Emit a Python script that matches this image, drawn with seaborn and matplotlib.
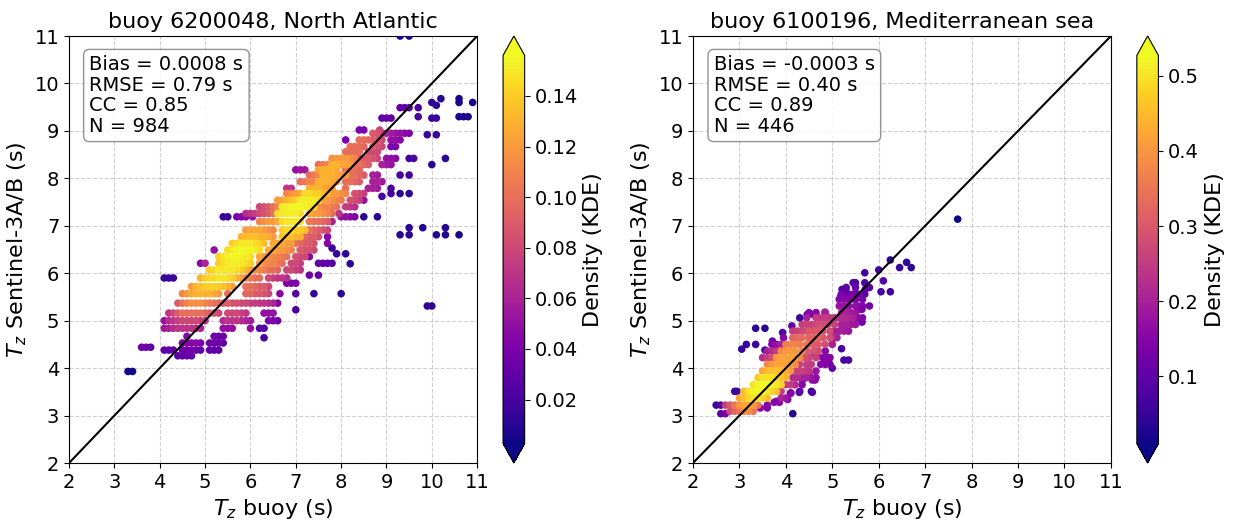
import numpy as np
import pandas as pd
import matplotlib
matplotlib.use('Agg')
import matplotlib.pyplot as plt
from matplotlib.colors import Normalize
from matplotlib.cm import ScalarMappable
import seaborn as sns

# =====================================================
# Data: one row per Sentinel-3 Tz level,
# with the buoy Tz values found on that row and their KDE density
# =====================================================

# --- buoy 6200048, North Atlantic ---
na_row_sat = [3.93, 4.44, 4.26, 4.38, 4.53, 4.67, 4.64, 4.84, 5.0, 5.16,
              5.23, 5.37, 5.57, 5.72, 5.79, 5.9, 5.96, 6.07, 6.21, 6.35,
              6.41, 6.49, 6.53, 6.2, 6.63, 6.77, 6.91, 7.09, 7.19, 7.26,
              7.4, 7.54, 7.62, 7.68, 7.79, 7.93, 8.07, 8.18, 8.29, 8.42,
              8.56, 8.67, 8.81, 8.92, 8.95, 9.02, 9.27, 9.3, 9.49, 9.54,
              9.6, 9.68, 11.0, 5.31, 6.81, 6.96, 5.9]
na_row_buoy = [
    [3.3, 3.4],
    [3.6, 3.7, 3.8],
    [4.4, 4.5, 4.6, 4.7],
    [4.1, 4.2, 4.3, 4.5, 4.6, 4.7, 4.8, 4.9, 5.1, 5.2, 5.3],
    [4.5, 4.6, 4.7, 4.8, 4.9, 5.1, 5.2, 5.3, 5.4],
    [4.6, 5.2, 5.3, 5.4],
    [6.3],
    [4.1, 4.2, 4.3, 4.4, 4.5, 4.6, 4.7, 4.8, 4.9, 5.4, 5.5, 5.6, 6.0, 6.2, 6.3],
    [4.1, 4.2, 4.3, 4.4, 4.5, 4.6, 4.7, 4.8, 4.9, 5.0, 5.4, 5.5, 5.6, 5.7, 5.8, 5.9, 6.0, 6.4, 6.5, 6.6],
    [4.2, 4.3, 4.4, 4.5, 4.6, 4.7, 4.8, 4.9, 5.0, 5.1, 5.2, 5.3, 5.5, 5.6, 5.7, 5.8, 5.9, 6.3, 6.4, 6.5],
    [7.0],
    [4.4, 4.5, 4.6, 4.7, 4.8, 4.9, 5.0, 5.1, 5.2, 5.3, 5.4, 5.5, 5.6, 5.7, 5.8, 5.9,
     6.0, 6.1, 6.2, 6.3, 6.4, 6.5, 6.6],
    [4.5, 4.6, 4.7, 4.8, 4.9, 5.0, 5.1, 5.2, 5.3, 5.5, 5.9, 6.0, 6.1, 6.2, 6.3, 6.4,
     6.65, 7.0, 7.4, 8.0],
    [4.7, 4.8, 4.9, 5.0, 5.1, 5.2, 5.3, 5.4, 5.5, 5.6, 5.9, 6.0, 6.1, 6.2, 6.3, 6.4],
    [6.8, 6.9, 7.0],
    [4.9, 5.0, 5.1, 5.2, 5.3, 5.4, 5.5, 5.6, 5.7, 5.8, 5.9, 6.0, 6.1, 6.2,
     6.4, 6.5, 6.6, 6.7, 6.8],
    [7.3, 7.5],
    [5.1, 5.2, 5.3, 5.4, 5.5, 5.6, 5.7, 5.8, 5.9, 6.0, 6.1, 6.2, 6.3, 6.4, 6.5, 6.6,
     6.8, 6.9, 7.0, 7.1],
    [4.9, 5.0, 5.3, 5.4, 5.5, 5.6, 5.7, 5.8, 5.9, 6.0, 6.2, 6.3, 6.4, 6.5, 6.6, 6.7,
     6.9, 7.0, 7.1, 7.5, 7.6, 7.7, 7.8],
    [5.3, 5.4, 5.5, 5.6, 5.7, 5.8, 5.9, 6.0, 6.2, 6.3, 6.4, 6.5, 6.6, 6.7, 6.8,
     7.0, 7.1, 7.2, 7.3],
    [7.9, 8.1],
    [5.2, 5.5, 5.6, 5.7, 5.8, 5.9, 6.0, 6.1, 6.2, 6.4, 6.5, 6.6, 6.7, 6.8, 6.9,
     7.1, 7.2, 7.3, 7.4],
    [7.8],
    [8.2],
    [5.6, 5.7, 5.8, 5.9, 6.0, 6.1, 6.2, 6.3, 6.5, 6.6, 6.7, 6.8, 6.9,
     7.0, 7.1, 7.2, 7.3, 7.4, 7.7],
    [5.8, 5.9, 6.0, 6.1, 6.2, 6.3, 6.4, 6.5, 6.7, 6.8, 6.9, 7.0, 7.1,
     7.2, 7.3, 7.4, 7.5, 7.7],
    [5.9, 6.0, 6.1, 6.2, 6.3, 6.4, 6.5, 6.7, 6.8, 6.9, 7.0, 7.1, 7.2,
     7.3, 7.4, 7.5, 7.6, 7.7],
    [6.2, 6.3, 6.4, 6.5, 6.6, 6.7, 6.8, 6.9, 7.0, 7.1, 7.3, 7.4, 7.5, 7.6, 7.7, 7.8],
    [5.4, 5.5, 5.7, 5.8, 5.9, 6.05, 8.0, 8.1, 8.2, 8.3, 8.5, 8.8],
    [5.9, 6.0, 6.1, 6.2, 6.3, 6.4, 6.5, 6.6, 6.7, 6.8, 6.9, 7.0, 7.1,
     7.3, 7.4, 7.5, 7.6, 7.7, 7.8, 7.95],
    [6.2, 6.3, 6.4, 6.5, 6.6, 6.7, 6.8, 6.9, 7.0, 7.1, 7.2, 7.3, 7.4,
     7.5, 7.6, 7.7, 7.8, 7.9, 8.1, 8.2, 8.3],
    [6.6, 6.7, 6.8, 6.9, 7.0, 7.1, 7.2, 7.3, 7.4, 7.5, 7.6, 7.7, 7.8, 7.9, 8.0,
     8.2, 8.3, 8.4, 8.5],
    [8.9],
    [6.8, 6.9, 7.0, 7.1, 7.2, 7.3, 7.4, 7.5, 7.6, 7.7, 7.8, 7.9, 8.0, 8.1,
     8.3, 8.4, 8.5, 9.1, 9.3, 9.5],
    [6.8, 6.9, 7.3, 7.4, 7.5, 7.6, 7.7, 7.8, 8.1, 8.6, 8.7, 8.8, 9.1],
    [7.1, 7.2, 7.3, 7.4, 7.5, 7.6, 7.7, 7.8, 7.9, 8.1, 8.2, 8.3, 8.4, 8.7, 8.8, 8.9],
    [7.3, 7.4, 7.5, 7.6, 7.7, 7.8, 7.9, 8.0, 8.1, 8.2, 8.3, 8.4, 8.5, 8.7, 8.8, 9.3, 9.5],
    [7.0, 7.1, 7.2, 7.5, 7.6, 7.7, 7.8, 7.9, 8.1, 8.2, 8.3, 8.4],
    [7.5, 7.6, 7.7, 7.8, 7.9, 8.0, 8.1, 8.2, 8.3, 8.4, 8.5, 8.6, 8.9, 9.0, 9.1, 10.0],
    [7.8, 7.9, 8.0, 8.1, 8.2, 8.3, 8.4, 8.5, 8.6, 8.7, 8.8, 9.0, 9.1, 9.2, 9.5, 9.6, 10.3],
    [8.1, 8.2, 8.3, 8.4, 8.6, 8.7, 8.8],
    [8.2, 8.3, 8.4, 8.5, 8.7, 8.8, 8.9, 9.1, 9.2],
    [8.1, 8.4, 8.5, 8.6, 8.7, 8.8, 8.9, 9.1, 9.2, 9.3],
    [9.9, 10.1],
    [8.7, 8.8, 8.9, 9.0, 9.1, 9.2, 9.3, 9.4, 9.5],
    [8.4, 8.5, 8.85],
    [8.9, 9.0, 9.1, 10.0, 10.1],
    [9.7, 10.6, 10.7, 10.8],
    [9.3, 9.4, 9.5, 9.7],
    [10.1],
    [10.0, 10.6, 10.9],
    [10.2, 10.6],
    [9.3, 9.5],
    [9.9, 10.0],
    [9.3, 9.5, 10.1, 10.3, 10.6],
    [9.5, 9.8, 10.3],
    [4.1, 4.2, 4.3],
]
na_row_kde = [
    [.004, .004],
    [.035, .035, .03],
    [.03, .03, .03, .03],
    [.03, .03, .03, .035, .035, .035, .035, .03, .03, .03, .03],
    [.04, .045, .045, .045, .04, .035, .035, .035, .03],
    [.045, .035, .035, .035],
    [.02],
    [.055, .06, .065, .07, .07, .07, .07, .065, .06, .05, .05, .05, .05, .025, .025],
    [.05, .065, .07, .075, .08, .08, .08, .08, .075, .07, .065, .07, .07, .07, .065, .06, .055, .04, .04, .035],
    [.07, .08, .09, .1, .1, .1, .1, .1, .095, .09, .085, .08, .08, .08, .08, .075, .07, .05, .05, .05],
    [.02],
    [.09, .1, .11, .115, .115, .115, .11, .105, .1, .095, .09, .09, .085, .085, .08, .08,
     .075, .075, .07, .07, .065, .06, .04],
    [.11, .12, .125, .13, .13, .13, .13, .125, .12, .1, .095, .095, .09, .09, .085, .08,
     .045, .025, .015, .012],
    [.12, .13, .135, .14, .14, .14, .14, .135, .13, .12, .1, .1, .095, .09, .09, .08],
    [.04, .04, .04],
    [.13, .14, .145, .145, .15, .15, .145, .14, .13, .12, .11, .105, .1, .1,
     .08, .075, .07, .07, .065],
    [.035, .03],
    [.14, .145, .15, .15, .15, .15, .145, .14, .13, .12, .115, .11, .105, .1, .1, .095,
     .08, .08, .075, .07],
    [.045, .06, .14, .145, .15, .152, .152, .15, .145, .14, .12, .115, .11, .11, .105, .1,
     .08, .08, .075, .03, .03, .03, .025],
    [.14, .148, .152, .155, .155, .152, .15, .145, .125, .12, .115, .11, .11, .105, .1,
     .085, .08, .08, .045],
    [.015, .012],
    [.05, .145, .15, .155, .155, .155, .155, .15, .145, .125, .125, .12, .12, .115, .11,
     .09, .085, .085, .08],
    [.015],
    [.01],
    [.14, .145, .15, .15, .15, .145, .14, .135, .125, .125, .125, .12, .12,
     .1, .095, .09, .09, .085, .045],
    [.13, .135, .135, .135, .13, .13, .125, .12, .135, .135, .135, .13, .13,
     .095, .09, .09, .085, .045],
    [.12, .125, .125, .125, .12, .115, .11, .14, .145, .145, .14, .14, .135,
     .1, .095, .09, .085, .08],
    [.11, .115, .12, .12, .125, .145, .15, .15, .15, .145, .105, .1, .1, .095, .09, .06],
    [.015, .015, .04, .045, .045, .05, .05, .05, .045, .04, .01, .01],
    [.065, .07, .075, .08, .085, .09, .1, .145, .15, .152, .152, .15, .145,
     .125, .12, .12, .115, .11, .1, .07],
    [.08, .085, .09, .1, .11, .15, .152, .155, .155, .155, .152, .15, .145,
     .115, .11, .11, .105, .1, .075, .07, .065],
    [.12, .125, .13, .135, .14, .15, .152, .152, .15, .145, .12, .12, .115, .11, .105,
     .085, .08, .075, .05],
    [.02],
    [.11, .115, .12, .125, .145, .145, .14, .14, .135, .13, .12, .12, .115, .11,
     .085, .08, .075, .02, .01, .01],
    [.07, .07, .13, .13, .13, .125, .12, .12, .1, .06, .06, .055, .02],
    [.1, .105, .11, .11, .13, .13, .13, .125, .12, .1, .1, .095, .09, .06, .06, .055],
    [.1, .105, .11, .13, .13, .13, .125, .12, .12, .1, .1, .095, .09, .06, .055, .02, .02],
    [.05, .055, .055, .125, .13, .13, .13, .125, .1, .1, .1, .095],
    [.1, .105, .11, .13, .13, .125, .125, .12, .1, .1, .095, .09, .06, .055, .05, .01],
    [.115, .12, .12, .12, .115, .11, .09, .09, .09, .085, .08, .05, .05, .045, .02, .02, .01],
    [.1, .1, .1, .1, .08, .08, .08],
    [.1, .1, .1, .095, .09, .085, .08, .04, .04],
    [.04, .1, .1, .095, .09, .085, .08, .05, .05, .045],
    [.015, .015],
    [.09, .085, .06, .06, .055, .05, .05, .045, .04],
    [.04, .04, .08],
    [.03, .03, .03, .015, .015],
    [.02, .005, .005, .005],
    [.03, .03, .03, .02],
    [.01],
    [.012, .006, .005],
    [.008, .005],
    [.006, .006],
    [.012, .012],
    [.01, .01, .008, .008, .006],
    [.01, .008, .008],
    [.015, .015, .015],
]
na_title = 'buoy 6200048, North Atlantic'
na_stats = ['Bias = 0.0008 s', 'RMSE = 0.79 s', 'CC = 0.85', 'N = 984']
na_kde_range = (0.0026, 0.156)

# --- buoy 6100196, Mediterranean sea ---
med_row_sat = [3.04, 3.09, 3.22, 3.04, 3.37, 3.47, 3.3, 3.16, 3.51, 3.65,
               3.8, 3.94, 4.0, 4.08, 4.17, 4.22, 4.36, 4.38, 4.4, 4.41,
               4.5, 4.64, 4.78, 4.84, 4.89, 4.92, 5.06, 5.17, 5.31, 5.45,
               5.56, 5.61, 5.7, 5.8, 5.84, 6.01, 6.07, 6.12, 6.23, 6.28, 7.14,
               5.13, 5.18, 4.75, 4.57, 4.46, 5.66, 5.52, 5.24, 4.97, 4.82,
               4.61, 4.22, 4.32, 4.25, 3.9, 3.75, 3.49, 3.48, 3.34, 3.28]
med_row_buoy = [
    [2.6, 2.7],
    [2.8, 2.9, 3.0, 3.1, 3.2, 3.3],
    [2.5, 2.6, 2.7, 2.8, 2.9, 3.0, 3.1, 3.2, 3.3, 3.4, 3.6],
    [4.15],
    [3.0, 3.1, 3.2, 3.3, 3.4, 3.5, 3.6, 3.9, 4.0],
    [4.1],
    [3.8],
    [3.45, 3.6],
    [2.9, 2.95, 3.1, 3.2, 3.3, 3.4, 3.5, 3.6, 3.7, 3.8, 3.9, 4.3, 4.55],
    [3.3, 3.4, 3.5, 3.6, 3.7, 3.8, 3.9, 4.0, 4.1, 4.2, 4.35],
    [3.4, 3.5, 3.6, 3.7, 3.8, 3.9, 4.0, 4.15, 4.25, 4.35, 4.45, 4.55, 4.65],
    [3.5, 3.6, 3.7, 3.8, 3.9, 4.0, 4.1, 4.2, 4.3, 4.4, 4.5, 4.65],
    [5.0],
    [3.6, 3.7, 3.8, 3.9, 4.0, 4.1, 4.2, 4.3, 4.45, 4.55, 4.75, 4.85, 4.95],
    [5.25, 5.35, 4.87],
    [3.5, 3.6, 3.7, 3.8, 3.9, 4.0, 4.1, 4.2, 4.3, 4.4, 4.5, 4.65, 4.8, 4.95],
    [3.6, 3.7, 3.8, 3.9, 4.0, 4.1, 4.2, 4.35, 4.45, 4.6, 4.7, 4.85],
    [3.55],
    [3.05],
    [5.2],
    [3.15, 3.35, 3.7, 3.8, 3.9, 4.0, 4.1, 4.2, 4.3, 4.45, 4.5, 4.6, 4.7, 4.85, 5.0],
    [3.95, 4.15, 4.25, 4.35, 4.5, 4.6, 4.7, 4.8, 4.95, 5.0, 5.1],
    [4.15, 4.25, 4.35, 4.45, 4.5, 4.6, 4.7, 4.8, 4.95, 5.05, 5.15, 5.25, 5.35],
    [3.35, 3.55],
    [4.13],
    [4.35, 4.45, 4.55, 4.65, 4.7, 4.8, 4.9, 5.05, 5.2, 5.3, 5.4, 5.5],
    [4.3, 4.45, 4.65, 4.75, 4.85, 4.95, 5.05, 5.15, 5.25, 5.35, 5.45, 5.55, 5.65],
    [4.5, 4.65, 4.85, 5.2, 5.3, 5.4, 5.5],
    [5.15, 5.25, 5.35, 5.5, 5.55, 5.65, 5.8],
    [5.15, 5.25, 5.35, 5.4, 5.5, 5.65],
    [5.2, 5.35, 5.45, 5.55, 5.7],
    [6.05, 6.25],
    [5.3, 5.5, 5.8],
    [5.45, 5.5, 5.7],
    [6.1],
    [5.7],
    [6.0],
    [6.45, 6.7],
    [6.6],
    [6.25],
    [7.7],
    [4.46, 4.59, 5.5],
    [4.84],
    [3.93],
    [3.71],
    [3.77],
    [5.21, 5.29, 5.71],
    [5.18, 5.43],
    [5.57, 5.64],
    [5.64],
    [5.21],
    [5.0],
    [4.86, 4.93],
    [4.61],
    [4.68],
    [4.5],
    [4.36, 4.57, 4.63],
    [4.29, 4.57],
    [4.11],
    [4.04],
    [3.86, 3.75],
]
med_row_kde = [
    [.1, .13],
    [.28, .32, .35, .38, .38, .35],
    [.06, .08, .25, .3, .35, .4, .42, .42, .4, .35, .15],
    [.03],
    [.42, .46, .48, .5, .5, .48, .45, .2, .18],
    [.15],
    [.15],
    [.15, .15],
    [.06, .06, .45, .5, .52, .52, .52, .5, .48, .45, .25, .1, .06],
    [.5, .52, .53, .53, .52, .5, .48, .25, .25, .22, .15],
    [.47, .5, .5, .5, .48, .46, .44, .22, .22, .2, .2, .18, .16],
    [.42, .45, .46, .46, .45, .43, .4, .26, .26, .25, .24, .18],
    [.1],
    [.38, .4, .42, .42, .42, .4, .38, .26, .25, .25, .15, .14, .13],
    [.07, .07, .15],
    [.22, .25, .28, .4, .42, .42, .42, .4, .38, .28, .27, .26, .15, .14],
    [.2, .22, .25, .38, .4, .4, .4, .38, .3, .29, .28, .15],
    [.06],
    [.05],
    [.07],
    [.05, .05, .15, .17, .2, .36, .37, .37, .36, .35, .31, .3, .3, .28, .2],
    [.15, .32, .33, .33, .32, .32, .32, .3, .28, .22, .2],
    [.25, .26, .27, .27, .3, .3, .3, .29, .28, .2, .2, .19, .18],
    [.04, .04],
    [.1],
    [.25, .26, .26, .26, .28, .28, .27, .26, .2, .2, .19, .18],
    [.06, .2, .25, .25, .25, .24, .23, .22, .22, .21, .2, .15, .14],
    [.15, .15, .2, .2, .2, .19, .18],
    [.18, .18, .17, .17, .15, .14, .13],
    [.15, .15, .15, .15, .14, .13],
    [.12, .12, .12, .11, .1],
    [.07, .06],
    [.1, .1, .09],
    [.08, .08, .08],
    [.08],
    [.07],
    [.07],
    [.05, .04],
    [.04],
    [.04],
    [.011],
    [.1, .1, .12],
    [.2],
    [.08],
    [.12],
    [.12],
    [.09, .09, .09],
    [.14, .14],
    [.14, .14],
    [.12],
    [.1],
    [.1],
    [.12, .12],
    [.15],
    [.15],
    [.15],
    [.15, .15, .15],
    [.08, .08],
    [.15],
    [.15],
    [.15, .15],
]
med_title = 'buoy 6100196, Mediterranean sea'
med_stats = ['Bias = -0.0003 s', 'RMSE = 0.40 s', 'CC = 0.89', 'N = 446']
med_kde_range = (0.0107, 0.527)


def to_frame(row_sat, row_buoy, row_kde):
    recs = []
    for s, xs, ds in zip(row_sat, row_buoy, row_kde):
        for x, d in zip(xs, ds):
            recs.append((x, s, d))
    df = pd.DataFrame(recs, columns=['buoy', 'sat', 'kde'])
    # densest points on top
    return df.sort_values('kde').reset_index(drop=True)


def draw_panel(ax, cax, df, title, stats, kde_range):
    norm = Normalize(*kde_range)
    sns.scatterplot(data=df, x='buoy', y='sat', hue='kde', palette='plasma',
                    hue_norm=norm, s=30, linewidth=0, legend=False, ax=ax, zorder=3)
    ax.plot([2, 11], [2, 11], color='black', lw=1.5, zorder=4)
    ax.set_xlim(2, 11)
    ax.set_ylim(2, 11)
    ax.set_xticks(range(2, 12))
    ax.set_yticks(range(2, 12))
    ax.grid(True, linestyle='--', color='#b0b0b0', alpha=0.6, lw=0.8)
    ax.tick_params(labelsize=14)
    ax.set_title(title, fontsize=16)
    ax.set_xlabel('$T_z$ buoy (s)', fontsize=16)
    ax.set_ylabel('$T_z$ Sentinel-3A/B (s)', fontsize=16)
    ax.text(0.05, 0.955, '\n'.join(stats), transform=ax.transAxes, fontsize=14,
            va='top', ha='left', zorder=5, linespacing=1.1,
            bbox=dict(boxstyle='round', facecolor='white', edgecolor='gray', alpha=0.85))
    sm = ScalarMappable(norm=norm, cmap='plasma')
    cb = plt.colorbar(sm, cax=cax, extend='both')
    cb.set_label('Density (KDE)', fontsize=16)
    cb.ax.tick_params(labelsize=14)


fig = plt.figure(figsize=(12.33, 5.23), dpi=100)
ax1 = fig.add_axes([0.056, 0.1147, 0.331, 0.8164])
cax1 = fig.add_axes([0.408, 0.1147, 0.0175, 0.8164])
ax2 = fig.add_axes([0.562, 0.1147, 0.339, 0.8164])
cax2 = fig.add_axes([0.922, 0.1147, 0.0175, 0.8164])

draw_panel(ax1, cax1, to_frame(na_row_sat, na_row_buoy, na_row_kde), na_title, na_stats, na_kde_range)
draw_panel(ax2, cax2, to_frame(med_row_sat, med_row_buoy, med_row_kde), med_title, med_stats, med_kde_range)

plt.savefig('out.png', dpi=100)
plt.close()
